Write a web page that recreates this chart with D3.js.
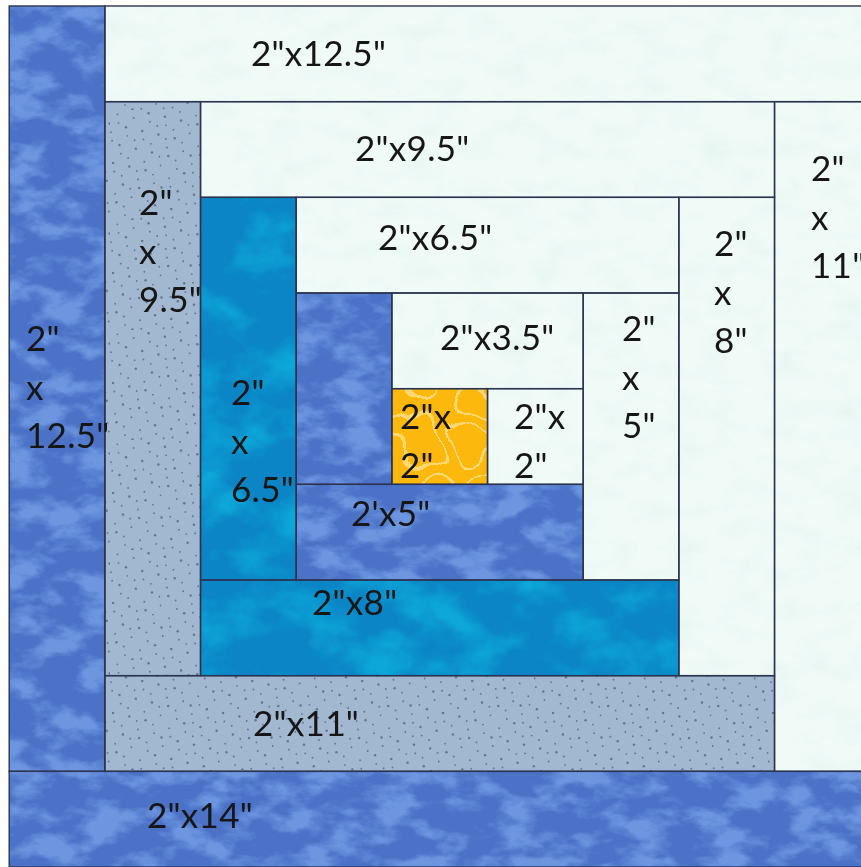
<!DOCTYPE html>
<html>
<head>
<meta charset="utf-8">
<title>Log cabin block</title>
<script src="https://cdn.jsdelivr.net/npm/d3@7"></script>
<style>
  html, body { margin: 0; padding: 0; background: #fff; overflow: hidden; }
  svg { display: block; }
  .label { font-family: Lato, "Open Sans", sans-serif; font-size: 35px; letter-spacing: 0.3px; fill: #141414; filter: url(#soft); }
  .seam { fill: none; stroke: #2b3450; stroke-width: 1.4; }
</style>
</head>
<body>
<svg width="861" height="867"></svg>
<script>
// strips in sewing order, going round the centre square: right, top, left, bottom
const pieceCut = [2, 2, 3.5, 3.5, 5, 5, 6.5, 6.5, 8, 8, 9.5, 9.5, 11, 11, 12.5, 12.5, 14];
const pieceFabric = ["gold", "white", "white", "blue", "blue", "white", "white", "teal", "teal",
  "white", "white", "grey", "grey", "white", "white", "blue", "blue"];
const pieceLabel = ['2"x|2"', '2"x|2"', '2"x3.5"', '', "2'x5\"", '2"|x|5"', '2"x6.5"', '2"|x|6.5"', '2"x8"',
  '2"|x|8"', '2"x9.5"', '2"|x|9.5"', '2"x11"', '2"|x|11"', '2"x12.5"', '2"|x|12.5"', '2"x14"'];
const stripCut = 2;
const seamAllowance = 0.5;
const sides = ["right", "top", "left", "bottom"];

// label placement on the page, [left, first baseline]
const labelSpots = [[400, 429], [514, 429], [440, 350], null, [351, 526], [622, 341], [378, 250], [231, 405], [312, 615],
  [714, 256], [355, 161], [139, 215], [253, 736], [811, 181], [251, 66], [26, 351], [147, 828]];
const lineGap = 48.5;

// work out where every strip lands, in finished inches
function layoutPieces() {
	const size = stripCut - seamAllowance;
	let box = { x0: 0, y0: 0, x1: size, y1: size };
	return pieceCut.map((cut, i) => {
		if (i === 0) return { ...box, i };
		const side = sides[(i - 1) % 4];
		const len = cut - seamAllowance;
		let p;
		if (side === "right") p = { x0: box.x1, x1: box.x1 + size, y0: box.y1 - len, y1: box.y1 };
		if (side === "top") p = { x0: box.x1 - len, x1: box.x1, y0: box.y0 - size, y1: box.y0 };
		if (side === "left") p = { x0: box.x0 - size, x1: box.x0, y0: box.y0, y1: box.y0 + len };
		if (side === "bottom") p = { x0: box.x0, x1: box.x0 + len, y0: box.y1, y1: box.y1 + size };
		box = {
			x0: Math.min(box.x0, p.x0), x1: Math.max(box.x1, p.x1),
			y0: Math.min(box.y0, p.y0), y1: Math.max(box.y1, p.y1)
		};
		return { ...p, i };
	});
}

const pieces = layoutPieces();
const x = d3.scaleLinear()
	.domain([d3.min(pieces, d => d.x0), d3.max(pieces, d => d.x1)])
	.range([9.2, 870.2]);
const y = d3.scaleLinear()
	.domain([d3.min(pieces, d => d.y0), d3.max(pieces, d => d.y1)])
	.range([6, 867]);

const svg = d3.select("svg");
const defs = svg.append("defs");

defs.append("filter").attr("id", "soft")
	.append("feGaussianBlur").attr("stdDeviation", 0.3);

function pageFilter(id) {
	return defs.append("filter").attr("id", id)
		.attr("filterUnits", "userSpaceOnUse")
		.attr("x", 0).attr("y", 0).attr("width", 861).attr("height", 867)
		.attr("color-interpolation-filters", "sRGB");
}

// lay a soft tinted layer over the fabric, cut to the shape of the strip
function finishCloth(f, layer) {
	f.append("feGaussianBlur").attr("in", layer).attr("stdDeviation", 0.6).attr("result", "layerSoft");
	f.append("feComposite").attr("in", "layerSoft").attr("in2", "SourceAlpha")
		.attr("operator", "in").attr("result", "layerCut");
	f.append("feMerge").call(m => {
		m.append("feMergeNode").attr("in", "SourceGraphic");
		m.append("feMergeNode").attr("in", "layerCut");
	});
}

// mottled cloth: noise thresholded into a tinted layer over the base colour
function clothFilter(id, freq, octaves, seed, tint, gain, shift) {
	const f = pageFilter(id);
	f.append("feTurbulence").attr("type", "fractalNoise").attr("baseFrequency", freq)
		.attr("numOctaves", octaves).attr("seed", seed).attr("result", "noise");
	f.append("feColorMatrix").attr("in", "noise").attr("type", "matrix")
		.attr("values", `0 0 0 0 ${tint[0]} 0 0 0 0 ${tint[1]} 0 0 0 0 ${tint[2]} ${gain} 0 0 0 ${shift}`)
		.attr("result", "tint");
	finishCloth(f, "tint");
}
clothFilter("cloth-blue", "0.024 0.042", 5, 7, [0.43, 0.59, 0.88], 4, -1.7);
clothFilter("cloth-teal", "0.016 0.022", 4, 21, [0.05, 0.66, 0.85], 3, -1.25);
clothFilter("cloth-white", "0.03 0.05", 4, 3, [0.88, 0.95, 0.93], 1.2, -0.55);

// gold fabric has thin pale wandering lines, taken from a contour band of the noise
const gold = pageFilter("cloth-gold");
gold.append("feTurbulence").attr("type", "fractalNoise").attr("baseFrequency", "0.02")
	.attr("numOctaves", 2).attr("seed", 11).attr("result", "noise");
gold.append("feColorMatrix").attr("in", "noise").attr("type", "matrix")
	.attr("values", "0 0 0 0 1 0 0 0 0 0.88 0 0 0 0 0.55 1 0 0 0 0").attr("result", "band");
gold.append("feComponentTransfer").attr("in", "band").attr("result", "veins")
	.append("feFuncA").attr("type", "discrete")
	.attr("tableValues", "0 0 0 0 0 0 0 0 0 0 0 0 0.8 0 0 0 0 0 0.8 0 0 0 0 0 0 0 0 0 0 0");
finishCloth(gold, "veins");

// grey fabric: small dots in a low discrepancy scatter
const dotTile = 110;
const dots = defs.append("pattern").attr("id", "cloth-grey")
	.attr("patternUnits", "userSpaceOnUse")
	.attr("width", dotTile).attr("height", dotTile);
dots.append("rect").attr("width", dotTile).attr("height", dotTile).attr("fill", "#a2b8d0");
dots.selectAll("circle")
	.data(d3.range(1, 105))
	.join("circle")
	.attr("cx", d => (d * 0.7548777 % 1) * dotTile)
	.attr("cy", d => (d * 0.5698403 % 1) * dotTile)
	.attr("r", d => d % 3 === 0 ? 1.25 : 0.95)
	.attr("fill", "#5a6b84")
	.attr("opacity", 0.85);

const fabricFill = { gold: "#fdb80e", white: "#f0fbf8", blue: "#4b72c7", teal: "#0b85c6", grey: "url(#cloth-grey)" };
const fabricFilter = { gold: "url(#cloth-gold)", white: "url(#cloth-white)", blue: "url(#cloth-blue)", teal: "url(#cloth-teal)", grey: null };

const rectAttrs = sel => sel
	.attr("x", d => x(d.x0))
	.attr("y", d => y(d.y0))
	.attr("width", d => x(d.x1) - x(d.x0))
	.attr("height", d => y(d.y1) - y(d.y0));

svg.append("g").selectAll("rect")
	.data(pieces)
	.join("rect")
	.call(rectAttrs)
	.attr("fill", d => fabricFill[pieceFabric[d.i]])
	.attr("filter", d => fabricFilter[pieceFabric[d.i]]);

svg.append("g").selectAll("rect")
	.data(pieces)
	.join("rect")
	.attr("class", "seam")
	.call(rectAttrs);

svg.append("g").selectAll("text")
	.data(pieces.filter(d => pieceLabel[d.i]))
	.join("text")
	.attr("class", "label")
	.attr("x", d => labelSpots[d.i][0])
	.attr("y", d => labelSpots[d.i][1])
	.each(function (d) {
		d3.select(this).selectAll("tspan")
			.data(pieceLabel[d.i].split("|"))
			.join("tspan")
			.attr("x", labelSpots[d.i][0])
			.attr("y", (t, j) => labelSpots[d.i][1] + j * lineGap)
			.text(t => t);
	});
</script>
</body>
</html>
